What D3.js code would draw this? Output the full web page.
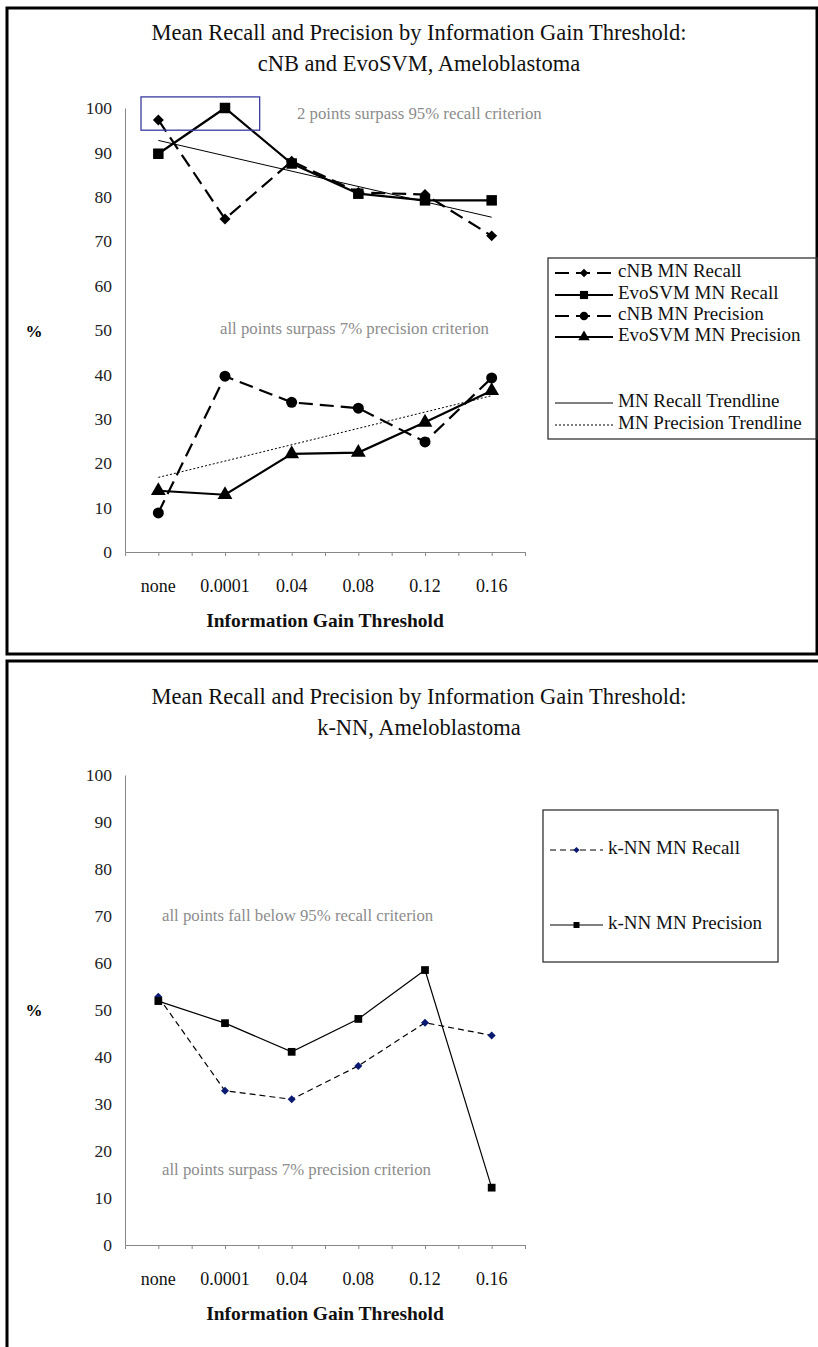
<!DOCTYPE html>
<html>
<head>
<meta charset="utf-8">
<script src="https://cdn.jsdelivr.net/npm/d3@7"></script>
<style>
  body { margin: 0; background: #fff; }
  svg { display: block; font-family: "Liberation Serif", "DejaVu Serif", serif; }
  .tick text { font-family: "Liberation Serif", serif; }
</style>
</head>
<body>
<svg></svg>
<script>
const CATEGORIES = ['none', '0.0001', '0.04', '0.08', '0.12', '0.16'];
const Y_TICKS = [0, 10, 20, 30, 40, 50, 60, 70, 80, 90, 100];

// top chart: cNB and EvoSVM
const CNB_RECALL = [97.3, 75, 88, 81, 80.5, 71.2];
const EVO_RECALL = [89.7, 100, 87.5, 80.7, 79.2, 79.2];
const CNB_PRECISION = [8.8, 39.6, 33.7, 32.4, 24.8, 39.2];
const EVO_PRECISION = [13.8, 12.9, 22.1, 22.4, 29.2, 36.3];
const RECALL_TREND = [92.7, 75.4];     // values at 'none' and '0.16'
const PRECISION_TREND = [16.8, 35.2];

// bottom chart: k-NN
const KNN_RECALL = [52.8, 32.8, 31.0, 38.1, 47.3, 44.6];
const KNN_PRECISION = [51.9, 47.2, 41.1, 48.1, 58.5, 12.2];

const W = 818, H = 1347;
const svg = d3.select('svg').attr('width', W).attr('height', H);

// panel borders
svg.append('rect').attr('x', 7).attr('y', 8).attr('width', 810).attr('height', 646)
  .attr('fill', 'none').attr('stroke', '#000').attr('stroke-width', 3);
svg.append('rect').attr('x', 7).attr('y', 661).attr('width', 900).attr('height', 900)
  .attr('fill', 'none').attr('stroke', '#000').attr('stroke-width', 3);

const sym = (type, size) => d3.symbol().type(type).size(size)();

function drawChart(cfg) {
  const x = d3.scaleBand().domain(CATEGORIES).range([125, 525]);
  const cx = d => x(d) + x.bandwidth() / 2;
  const y = d3.scaleLinear().domain([0, 100]).range([cfg.y0, cfg.y100]);
  const g = svg.append('g');

  // titles
  cfg.title.forEach((t, i) => {
    g.append('text').attr('x', 419).attr('y', cfg.titleY + i * 31)
      .attr('text-anchor', 'middle').attr('font-size', 22.5).attr('fill', '#111').text(t);
  });

  // y axis
  const ya = g.append('g').attr('transform', 'translate(125,0)')
    .call(d3.axisLeft(y).tickValues(Y_TICKS).tickSize(0).tickPadding(13));
  ya.select('.domain').attr('stroke', '#888');
  ya.selectAll('text').attr('font-size', 17.5).attr('fill', '#222');

  // x axis: ticks at band edges and centres
  const xt = d3.scaleLinear().domain([0, 12]).range([125, 525]);
  const xa = g.append('g').attr('transform', `translate(0,${cfg.y0})`)
    .call(d3.axisBottom(xt).tickValues(d3.range(1, 13)).tickSize(4).tickFormat(''));
  xa.select('.domain').attr('stroke', '#888');
  xa.selectAll('line').attr('stroke', '#888');

  const xl = g.append('g').attr('transform', `translate(0,${cfg.y0 + 24})`)
    .call(d3.axisBottom(x).tickSize(0));
  xl.select('.domain').remove();
  xl.selectAll('text').attr('font-size', 18).attr('fill', '#111');

  g.append('text').attr('x', 325).attr('y', cfg.y0 + 75).attr('text-anchor', 'middle')
    .attr('font-size', 19.5).attr('font-weight', 'bold').attr('fill', '#111')
    .text('Information Gain Threshold');
  g.append('text').attr('x', 34).attr('y', cfg.pctY).attr('text-anchor', 'middle')
    .attr('font-size', 17).attr('font-weight', 'bold').text('%');

  // annotations
  cfg.notes.forEach(n => {
    g.append('text').attr('x', n.x).attr('y', y(n.v)).attr('font-size', 16.8)
      .attr('fill', '#8c8c8c').attr('dominant-baseline', 'middle').text(n.text);
  });

  // trendlines
  (cfg.trends || []).forEach(t => {
    g.append('line').attr('x1', cx(CATEGORIES[0])).attr('x2', cx(CATEGORIES[5]))
      .attr('y1', y(t.values[0])).attr('y2', y(t.values[1]))
      .attr('stroke', '#000').attr('stroke-width', 1).attr('stroke-dasharray', t.dash);
  });

  // series
  const line = d3.line().x((d, i) => cx(CATEGORIES[i])).y(d => y(d));
  cfg.series.forEach(s => {
    g.append('path').datum(s.values).attr('d', line).attr('fill', 'none')
      .attr('stroke', s.line).attr('stroke-width', s.width).attr('stroke-dasharray', s.dash);
    g.selectAll(null).data(s.values).enter().append('path')
      .attr('d', sym(s.symbol, s.size))
      .attr('transform', (d, i) => `translate(${cx(CATEGORIES[i])},${y(d)}) rotate(${s.rot || 0})`)
      .attr('fill', s.marker);
  });

  // legend
  const L = cfg.legend;
  g.append('rect').attr('x', L.x).attr('y', L.y).attr('width', L.w).attr('height', L.h)
    .attr('fill', 'none').attr('stroke', '#333').attr('stroke-width', 1.3);
  L.items.forEach(it => {
    const lg = g.append('g').attr('transform', `translate(${L.x + 7},${it.y})`);
    lg.append('line').attr('x1', 0).attr('x2', L.sample).attr('stroke', '#000')
      .attr('stroke-width', it.s ? it.s.width : 1)
      .attr('stroke-dasharray', it.s ? it.s.dash : it.dash);
    if (it.s) {
      lg.append('path').attr('d', sym(it.s.symbol, it.s.size * 0.6))
        .attr('transform', `translate(${L.sample / 2},0) rotate(${it.s.rot || 0})`).attr('fill', it.s.marker);
    }
    lg.append('text').attr('x', L.sample + 5).attr('dominant-baseline', 'middle')
      .attr('font-size', 19).attr('fill', '#111').text(it.label);
  });
}

const sCnbR = { values: CNB_RECALL, symbol: d3.symbolSquare, rot: 45, size: 60, marker: '#000', line: '#000', width: 2.2, dash: '14,7' };
const sEvoR = { values: EVO_RECALL, symbol: d3.symbolSquare, size: 110, marker: '#000', line: '#000', width: 2.2, dash: null };
const sCnbP = { values: CNB_PRECISION, symbol: d3.symbolCircle, size: 95, marker: '#000', line: '#000', width: 2.2, dash: '14,7' };
const sEvoP = { values: EVO_PRECISION, symbol: d3.symbolTriangle, size: 95, marker: '#000', line: '#000', width: 2.2, dash: null };

drawChart({
  title: ['Mean Recall and Precision by Information Gain Threshold:', 'cNB and EvoSVM, Ameloblastoma'],
  titleY: 40, y0: 552, y100: 108, pctY: 337,
  notes: [
    { x: 297, v: 98.5, text: '2 points surpass 95% recall criterion' },
    { x: 220, v: 50, text: 'all points surpass 7% precision criterion' }
  ],
  trends: [{ values: RECALL_TREND, dash: null }, { values: PRECISION_TREND, dash: '2,2' }],
  series: [sCnbR, sEvoR, sCnbP, sEvoP],
  legend: {
    x: 548, y: 258, w: 269, h: 181, sample: 58,
    items: [
      { label: 'cNB MN Recall', y: 273, s: sCnbR },
      { label: 'EvoSVM MN Recall', y: 295, s: sEvoR },
      { label: 'cNB MN Precision', y: 316, s: sCnbP },
      { label: 'EvoSVM MN Precision', y: 337, s: sEvoP },
      { label: 'MN Recall Trendline', y: 403, dash: null },
      { label: 'MN Precision Trendline', y: 425, dash: '2,2' }
    ]
  }
});

// criterion box around the two points above 95% recall
{
  const y = d3.scaleLinear().domain([0, 100]).range([552, 108]);
  const xb = d3.scaleLinear().domain([0, 6]).range([125, 525]);
  svg.append('rect').attr('x', xb(0.24)).attr('y', y(102.5))
    .attr('width', xb(2.02) - xb(0.24)).attr('height', y(95) - y(102.5))
    .attr('fill', 'none').attr('stroke', '#3a3aa0').attr('stroke-width', 1.3);
}

const sKnnR = { values: KNN_RECALL, symbol: d3.symbolSquare, rot: 45, size: 32, marker: '#0a1a70', line: '#000', width: 1.2, dash: '6,4' };
const sKnnP = { values: KNN_PRECISION, symbol: d3.symbolSquare, size: 60, marker: '#000', line: '#000', width: 1.2, dash: null };

drawChart({
  title: ['Mean Recall and Precision by Information Gain Threshold:', 'k-NN, Ameloblastoma'],
  titleY: 704, y0: 1245, y100: 775, pctY: 1016,
  notes: [
    { x: 162, v: 69.8, text: 'all points fall below 95% recall criterion' },
    { x: 162, v: 15.8, text: 'all points surpass 7% precision criterion' }
  ],
  series: [sKnnR, sKnnP],
  legend: {
    x: 543, y: 810, w: 235, h: 152, sample: 53,
    items: [
      { label: 'k-NN MN Recall', y: 850, s: sKnnR },
      { label: 'k-NN MN Precision', y: 925, s: sKnnP }
    ]
  }
});
</script>
</body>
</html>
